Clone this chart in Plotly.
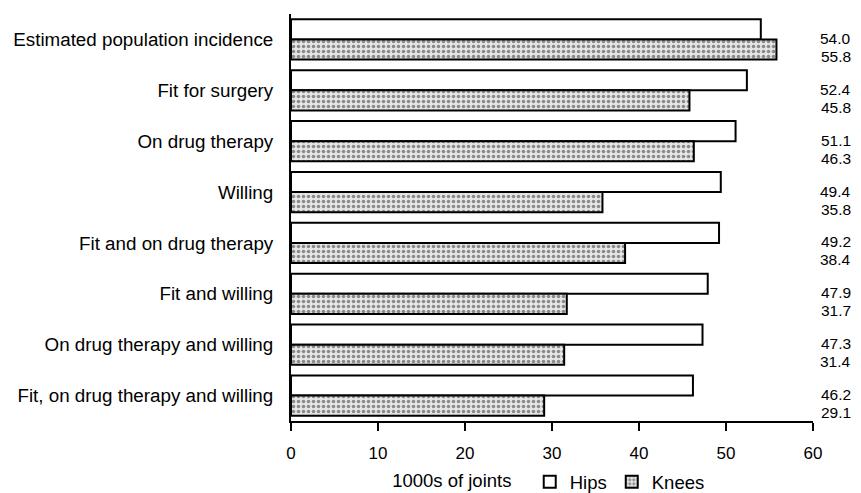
import plotly.graph_objects as go

categories = [
    "Estimated population incidence",
    "Fit for surgery",
    "On drug therapy",
    "Willing",
    "Fit and on drug therapy",
    "Fit and willing",
    "On drug therapy and willing",
    "Fit, on drug therapy and willing",
]
hips = [54.0, 52.4, 51.1, 49.4, 49.2, 47.9, 47.3, 46.2]
knees = [55.8, 45.8, 46.3, 35.8, 38.4, 31.7, 31.4, 29.1]
x_ticks = [0, 10, 20, 30, 40, 50, 60]

FONT = "Liberation Sans, Arial, Helvetica, sans-serif"

fig = go.Figure()
fig.add_trace(go.Bar(
    y=categories, x=hips, orientation="h", name="Hips",
    marker=dict(color="white", line=dict(color="black", width=2)),
))
fig.add_trace(go.Bar(
    y=categories, x=knees, orientation="h", name="Knees",
    marker=dict(color="#d8d8d8", line=dict(color="black", width=2),
                pattern=dict(shape=".", fgcolor="#8a8a8a", bgcolor="#e6e6e6",
                             size=5, solidity=0.4)),
))

for c, h, k in zip(categories, hips, knees):
    fig.add_annotation(x=1.077, xref="paper", y=c, yref="y",
                       text=f"{h:.1f}", showarrow=False, xanchor="right",
                       yanchor="middle", yshift=1,
                       font=dict(size=15.5, color="black", family=FONT))
    fig.add_annotation(x=1.077, xref="paper", y=c, yref="y",
                       text=f"{k:.1f}", showarrow=False, xanchor="right",
                       yanchor="middle", yshift=-17,
                       font=dict(size=15.5, color="black", family=FONT))

fig.update_layout(
    template="none",
    width=853, height=485,
    margin=dict(l=283, r=48, t=6, b=72, autoexpand=False),
    paper_bgcolor="white", plot_bgcolor="white",
    font=dict(family=FONT, size=17, color="black"),
    barmode="group", bargap=0.21, bargroupgap=0,
    showlegend=True,
    legend=dict(orientation="h", xref="container", yref="container",
                x=0.448, xanchor="left", y=0.022, yanchor="middle",
                title=dict(text="1000s of joints\u00a0\u00a0", side="left",
                           font=dict(size=18.5)),
                font=dict(size=18.5), bgcolor="rgba(0,0,0,0)", borderwidth=0),
    xaxis=dict(range=[0, 60], tickvals=x_ticks, ticks="outside", ticklen=8, tickwidth=2,
               tickcolor="black", showline=True, linewidth=2, linecolor="black",
               showgrid=False, zeroline=False, tickfont=dict(size=17),
               ticklabelstandoff=8, automargin=False),
    yaxis=dict(type="category", categoryorder="array", categoryarray=categories,
               range=[7.5, -0.5], showline=True, linewidth=2, linecolor="black",
               ticks="", showgrid=False, zeroline=False, tickfont=dict(size=18.8),
               ticklabelstandoff=12, automargin=False),
)

fig.write_html("out.html")
